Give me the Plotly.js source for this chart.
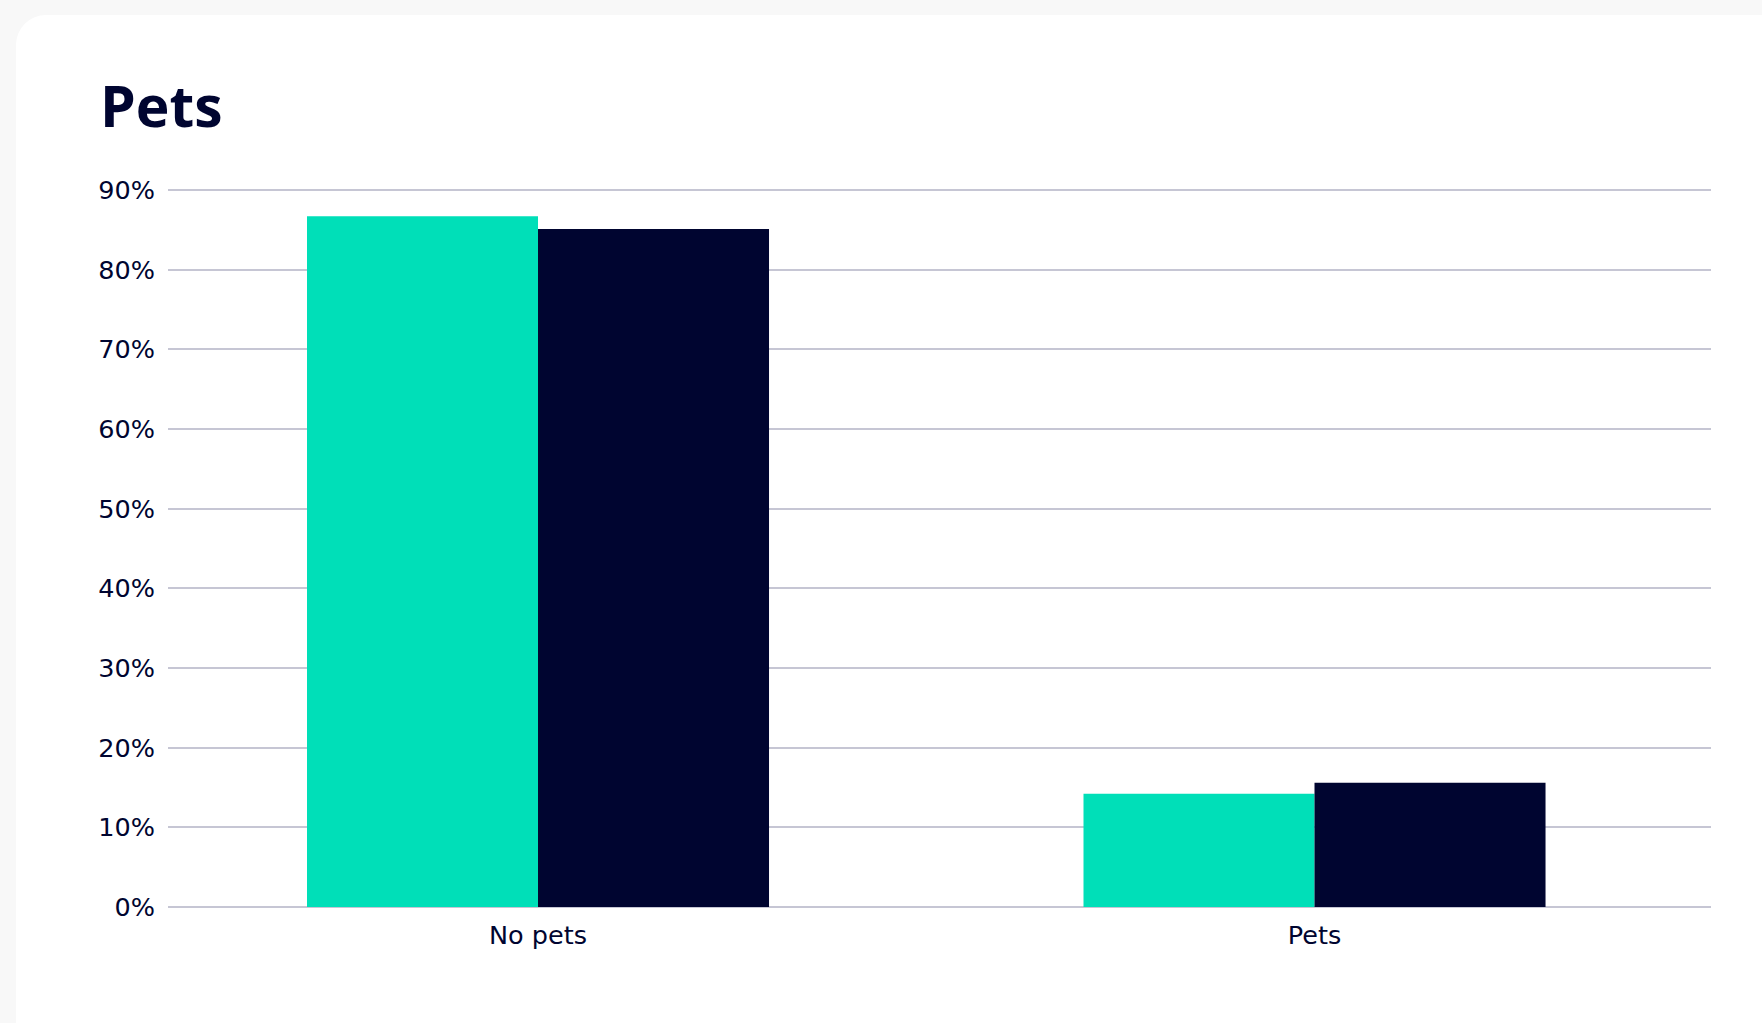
<!DOCTYPE html>
<html>
<head>
<meta charset="utf-8">
<script src="https://cdn.plot.ly/plotly-3.0.1.min.js"></script>
<style>
  html, body { margin: 0; padding: 0; width: 1762px; height: 1023px; overflow: hidden; background: #f8f8f8; }
  #card { position: absolute; left: 16px; top: 15px; width: 1800px; height: 1040px; background: #ffffff; border-radius: 30px; }
  #chart { position: absolute; left: 0; top: 0; width: 1762px; height: 1023px; }
</style>
</head>
<body>
<div id="card"></div>
<div id="chart"></div>
<script>
const categories = ["No pets", "Pets"];
const seriesA = [86.7, 14.2];
const seriesB = [85.1, 15.6];
const tickValues = [0, 10, 20, 30, 40, 50, 60, 70, 80, 90];
const tickLabels = ["0%", "10%", "20%", "30%", "40%", "50%", "60%", "70%", "80%", "90%"];

const navy = "#000530";
const labelFont = { family: "DejaVu Sans, sans-serif", size: 25.5, color: navy };

const traces = [
  { type: "bar", name: "Series A", x: categories, y: seriesA, marker: { color: "#00dfb8" } },
  { type: "bar", name: "Series B", x: categories, y: seriesB, marker: { color: navy } }
];

const layout = {
  width: 1762, height: 1023,
  paper_bgcolor: "rgba(0,0,0,0)", plot_bgcolor: "rgba(0,0,0,0)",
  margin: { l: 168, r: 51, t: 182, b: 116, pad: 0 },
  showlegend: false,
  barmode: "group", bargap: 0.405, bargroupgap: 0,
  title: {
    text: "<b>Pets</b>",
    font: { family: "Open Sans, sans-serif", size: 57, color: navy },
    xref: "container", yref: "container",
    x: 100 / 1762, xanchor: "left",
    y: 1 - 127 / 1023, yanchor: "bottom"
  },
  xaxis: {
    type: "category",
    range: [-0.4765, 1.5106],
    showgrid: false, zeroline: false, showline: false,
    ticks: "", tickfont: labelFont,
    ticklabelstandoff: 10,
    fixedrange: true
  },
  yaxis: {
    range: [0, 91],
    tickvals: tickValues, ticktext: tickLabels,
    showgrid: true, gridcolor: "#c6c6d4", gridwidth: 2,
    zeroline: true, zerolinecolor: "#c6c6d4", zerolinewidth: 2,
    showline: false, ticks: "",
    tickfont: labelFont,
    ticklabelstandoff: 12,
    fixedrange: true
  }
};

Plotly.newPlot("chart", traces, layout, { staticPlot: true, displayModeBar: false });
</script>
</body>
</html>
